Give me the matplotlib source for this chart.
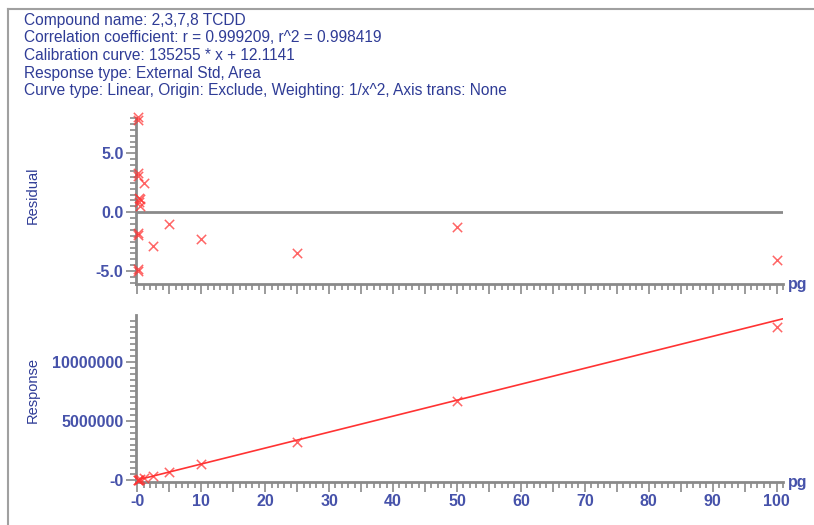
import matplotlib
matplotlib.use("Agg")
import matplotlib.pyplot as plt
from matplotlib.ticker import MultipleLocator, FuncFormatter
from matplotlib.lines import Line2D

plt.rcParams['font.family'] = ['Liberation Sans', 'DejaVu Sans']

# ---- data ----
header_lines = [
    "Compound name: 2,3,7,8 TCDD",
    "Correlation coefficient: r = 0.999209, r^2 = 0.998419",
    "Calibration curve: 135255 * x + 12.1141",
    "Response type: External Std, Area",
    "Curve type: Linear, Origin: Exclude, Weighting: 1/x^2, Axis trans: None",
]
slope = 135255
intercept = 12.1141

resid_x = [0.05, 0.05, 0.1, 0.1, 0.25, 0.25, 0.5, 0.5, 0.1, 0.1, 0.05, 0.05, 1.0, 2.5, 5.0, 10.0, 25.0, 50.0, 100.0]
resid_y = [8.1, 7.8, 3.3, 3.1, 1.2, 0.9, 1.15, 0.5, -1.8, -1.9, -4.8, -5.0, 2.5, -2.9, -1.0, -2.3, -3.5, -1.3, -4.1]

resp_x = [0.05, 0.1, 0.25, 0.5, 1.0, 2.5, 5.0, 10.0, 25.0, 50.0, 100.0]
resp_y = [7000, 14000, 34000, 68000, 139000, 328000, 670000, 1320000, 3260000, 6670000, 12970000]

xlim = (-0.2, 101)
resid_ylim = (-6.1, 8.0)
resp_ylim = (-0.17e6, 1.398e7)

TXT = '#2f3c96'
TICK = '#4652aa'
GRAY = '#8a8a8a'
RED = '#ff3333'

fig = plt.figure(figsize=(8.14, 5.25), dpi=100)

# frame lines
fig.add_artist(Line2D([8/814, 8/814], [0, 1 - 9/525], transform=fig.transFigure, color='#a0a0a0', lw=1.5))
fig.add_artist(Line2D([8/814, 1], [1 - 9/525, 1 - 9/525], transform=fig.transFigure, color='#a0a0a0', lw=1.5))

for i, t in enumerate(header_lines):
    fig.text(24/814, 1 - (20 + i*17.7)/525, t, fontsize=11.2, color=TXT, va='center', ha='left')

def style(ax):
    for s in ['top', 'right']:
        ax.spines[s].set_visible(False)
    for s in ['left', 'bottom']:
        ax.spines[s].set_color(GRAY)
        ax.spines[s].set_linewidth(2)
    ax.tick_params(which='both', color=GRAY, width=1.2)
    ax.tick_params(which='major', length=7, labelsize=11.5, labelcolor=TICK, pad=2)
    ax.tick_params(which='minor', length=4)
    ax.set_xlim(*xlim)
    ax.xaxis.set_major_locator(MultipleLocator(5))
    ax.xaxis.set_minor_locator(MultipleLocator(1))
    for lab in ax.get_xticklabels() + ax.get_yticklabels():
        lab.set_fontweight('bold')
    ax.text(1.008, 0, 'pg', transform=ax.transAxes, fontsize=11.5, color=TICK,
            fontweight='bold', va='center', ha='left')

def xfmt(v, p):
    if abs(v) < 1e-9:
        return '-0'
    if abs(v % 10) < 1e-9:
        return '%d' % v
    return ''

# residual axes
ax1 = fig.add_axes([136/814, 1 - 284/525, (783-136)/814, (284-118)/525])
ax1.set_ylim(*resid_ylim)
ax1.axhline(0, color=GRAY, lw=2)
ax1.scatter(resid_x, resid_y, marker='x', s=45, color=RED, alpha=0.75, linewidths=1.1, clip_on=False, zorder=3)
ax1.yaxis.set_major_locator(MultipleLocator(5))
ax1.yaxis.set_minor_locator(MultipleLocator(0.5))
ax1.yaxis.set_major_formatter(FuncFormatter(lambda v, p: '%.1f' % v))
ax1.xaxis.set_major_formatter(FuncFormatter(lambda v, p: ''))
style(ax1)
fig.text(33/814, 1 - 195/525, 'Residual', rotation=90, fontsize=10.5, color=TXT, va='center', ha='center')

# response axes
ax2 = fig.add_axes([136/814, 1 - 482/525, (783-136)/814, (482-315)/525])
ax2.set_ylim(*resp_ylim)
ax2.plot(list(xlim), [slope*xlim[0] + intercept, slope*xlim[1] + intercept], color=RED, lw=1.2)
ax2.scatter(resp_x, resp_y, marker='x', s=45, color=RED, alpha=0.75, linewidths=1.1, clip_on=False, zorder=3)
ax2.yaxis.set_major_locator(MultipleLocator(5e6))
ax2.yaxis.set_minor_locator(MultipleLocator(5e5))
ax2.yaxis.set_major_formatter(FuncFormatter(lambda v, p: '-0' if abs(v) < 1 else '%d' % v))
ax2.xaxis.set_major_formatter(FuncFormatter(xfmt))
style(ax2)
fig.text(33/814, 1 - 390/525, 'Response', rotation=90, fontsize=10.5, color=TXT, va='center', ha='center')

fig.savefig('out.png', dpi=100)
